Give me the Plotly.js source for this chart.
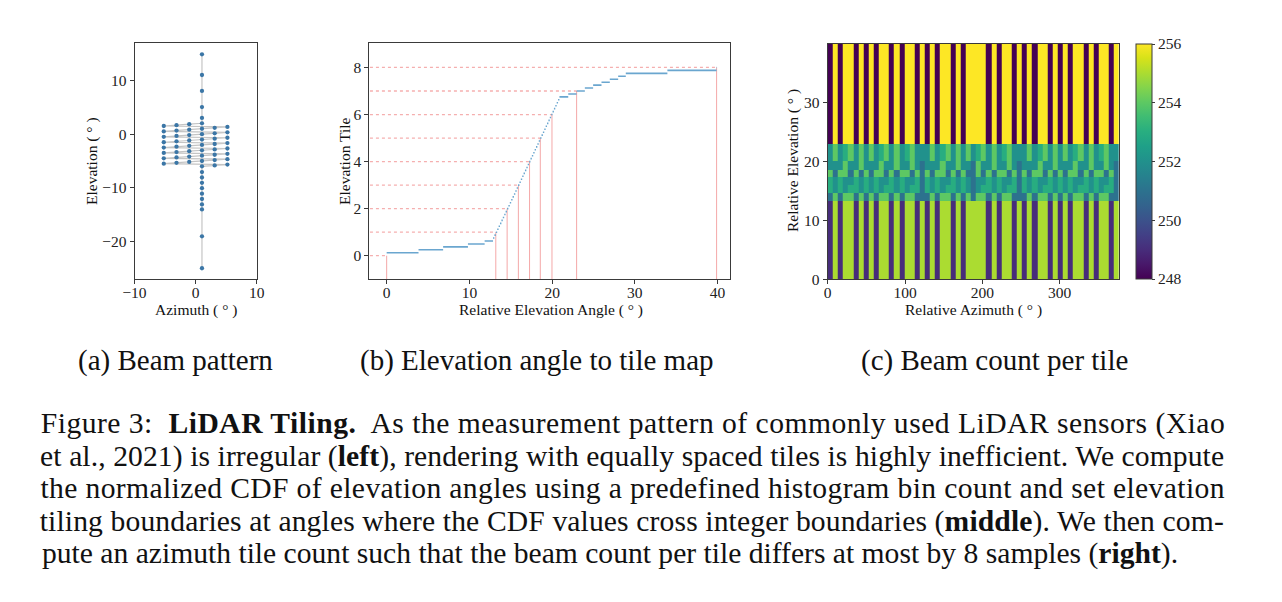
<!DOCTYPE html>
<html><head><meta charset="utf-8">
<script src="https://cdn.plot.ly/plotly-3.0.1.min.js"></script>
<style>html,body{margin:0;padding:0;background:#fff}#chart{width:1282px;height:602px}</style>
</head><body><div id="chart"></div>
<script>
// ---------- Panel (a): beam pattern ----------
const beamElevation = [14.882, 11.032, 8.059, 5.057, 3.040, 2.028,
  1.860, 1.688, 1.522, 1.351, 1.184, 1.013, 0.846, 0.675, 0.508, 0.337, 0.169, 0.000,
  -0.167, -0.334, -0.500, -0.667, -0.834, -1.001, -1.167, -1.334, -1.500, -1.667, -1.834, -2.001,
  -2.167, -2.334, -2.500, -2.667, -2.834, -3.001, -3.167, -3.334, -3.500, -3.667, -3.834, -4.001,
  -4.167, -4.334, -4.500, -4.667, -4.834, -5.001, -5.167, -5.334, -5.500, -5.667, -5.834, -6.001,
  -7.065, -8.075, -9.073, -10.073, -11.084, -12.089, -13.100, -14.023, -19.050, -25.000];
const beamAzimuth = [1.042, 1.042, 1.042, 1.042, 1.042, 1.042,
  -1.042, -3.125, -5.208, 5.208, 3.125, 1.042, -1.042, -3.125, -5.208, 5.208, 3.125, 1.042,
  -1.042, -3.125, -5.208, 5.208, 3.125, 1.042, -1.042, -3.125, -5.208, 5.208, 3.125, 1.042,
  -1.042, -3.125, -5.208, 5.208, 3.125, 1.042, -1.042, -3.125, -5.208, 5.208, 3.125, 1.042,
  -1.042, -3.125, -5.208, 5.208, 3.125, 1.042, -1.042, -3.125, -5.208, 5.208, 3.125, 1.042,
  1.042, 1.042, 1.042, 1.042, 1.042, 1.042, 1.042, 1.042, 1.042, 1.042];

// ---------- Panel (b): elevation angle -> tile ----------
const tileLevels = [0, 1, 2, 3, 4, 5, 6, 7, 8];
const tileBoundaryAngles = [0, 13.19, 14.56, 15.92, 17.27, 18.57, 19.98, 22.96, 39.88];
const beamsPerTileUnit = 8; // 64 beams / 8 tiles

// ---------- Panel (c): beam count per tile (rows bottom -> top, 57 azimuth tiles) ----------
const azimuthTileCount = 57;
const azimuthTileWidth = 6.61;
const countRow0 = [249,255,249,255,255,249,255,249,255,249,255,255,249,255,249,255,255,249,255,
                   249,255,249,255,255,249,255,249,255,255,255,255,249,255,249,255,255,249,255,
                   249,255,249,255,255,249,255,249,255,249,255,255,249,255,249,255,255,249,255];
const countRow1 = [251,254,251,254,254,251,254,251,254,251,254,254,251,254,251,254,254,251,251,
                   251,254,251,254,254,251,254,251,254,251,254,254,251,254,251,254,254,251,251,
                   251,254,251,254,254,251,254,251,254,251,254,254,251,254,251,254,254,251,251];
const countRow2 = [253,252,253,252,253,253,252,253,252,253,252,253,253,252,253,252,253,253,251,
                   253,252,253,252,253,253,252,253,252,251,252,253,253,252,253,252,253,253,251,
                   253,252,253,252,253,253,252,253,252,253,252,253,253,252,253,252,253,253,251];
const countRow3 = [253,252,253,252,252,253,252,253,252,253,252,252,253,252,253,252,252,253,251,
                   253,252,253,252,252,253,252,253,252,251,252,252,253,252,253,252,252,253,251,
                   253,252,253,252,252,253,252,253,252,253,252,252,253,252,253,252,252,253,251];
const countRow4 = [254,251,254,254,251,254,251,254,251,254,254,251,254,251,254,254,251,254,251,
                   254,251,254,254,251,254,251,254,251,251,254,251,254,251,254,254,251,254,251,
                   254,251,254,254,251,254,251,254,251,254,254,251,254,251,254,254,251,254,251];
const countRow5 = [252,252,252,254,252,252,254,252,252,252,254,252,252,254,252,252,254,252,251,
                   252,252,252,254,252,252,254,252,252,251,254,252,252,254,252,252,254,252,251,
                   252,252,252,254,252,252,254,252,252,252,254,252,252,254,252,252,254,252,251];
const countRow6 = [252,254,252,253,254,252,254,252,254,252,253,254,252,254,252,253,254,252,252,
                   252,254,252,253,254,252,254,252,254,252,253,254,252,254,252,253,254,252,252,
                   252,254,252,253,254,252,254,252,254,252,253,254,252,254,252,253,254,252,252];
const countRow7 = [248,256,248,256,256,248,256,248,256,248,256,256,248,256,248,256,256,248,256,
                   248,256,248,256,256,248,256,248,256,256,256,256,248,256,248,256,256,248,256,
                   248,256,248,256,256,248,256,248,256,248,256,256,248,256,248,256,256,248,256];
const countMin = 248, countMax = 256;

// ---------- Text ----------
const subCaptions = ["(a) Beam pattern", "(b) Elevation angle to tile map", "(c) Beam count per tile"];
const captionLines = [
  "Figure 3:  <b>LiDAR Tiling.</b>  As the measurement pattern of commonly used LiDAR sensors (Xiao",
  "et al., 2021) is irregular (<b>left</b>), rendering with equally spaced tiles is highly inefficient. We compute",
  "the normalized CDF of elevation angles using a predefined histogram bin count and set elevation",
  "tiling boundaries at angles where the CDF values cross integer boundaries (<b>middle</b>). We then com-",
  "pute an azimuth tile count such that the beam count per tile differs at most by 8 samples (<b>right</b>)."
];

// ================= build =================
const W = 1282, H = 602;
const px = v => v / W, py = v => 1 - v / H;
const SERIF = "'Liberation Serif', 'Times New Roman', Times, serif";
const tickFont = {family: SERIF, size: 15.5, color: "#222"};
const axisBase = {showline: true, mirror: true, linecolor: "#3a3a3a", linewidth: 1,
  ticks: "outside", ticklen: 4, tickwidth: 1, tickcolor: "#3a3a3a",
  showgrid: false, zeroline: false, tickfont: tickFont};
const xBase = Object.assign({}, axisBase, {ticklabelstandoff: -5});

// CDF step curve from sorted relative elevation angles
const relAngles = beamElevation.map(e => beamElevation[0] - e).sort((a, b) => a - b);
const cdfX = [], cdfY = [];
for (let i = 0; i < relAngles.length; i++) {
  const x0 = relAngles[i];
  const x1 = i + 1 < relAngles.length ? relAngles[i + 1] : relAngles[i] + 0.05;
  const level = (i + 1) / beamsPerTileUnit;
  cdfX.push(x0, x1, null); cdfY.push(level, level, null);
}
// red guide lines
const hX = [], hY = [], vX = [], vY = [];
tileLevels.forEach((lv, i) => {
  hX.push(-10, tileBoundaryAngles[i], null); hY.push(lv, lv, null);
  vX.push(tileBoundaryAngles[i], tileBoundaryAngles[i], null); vY.push(-5, lv, null);
});

const traces = [
  {type: "scatter", mode: "lines+markers", x: beamAzimuth, y: beamElevation,
   xaxis: "x", yaxis: "y", line: {color: "#c4c4c4", width: 1.2},
   marker: {color: "#3b76a6", size: 4.3}},
  {type: "scatter", mode: "lines", x: hX, y: hY, xaxis: "x2", yaxis: "y2",
   line: {color: "rgba(236,110,110,0.55)", width: 1.3, dash: "dot"}},
  {type: "scatter", mode: "lines", x: vX, y: vY, xaxis: "x2", yaxis: "y2",
   line: {color: "rgba(236,110,110,0.6)", width: 1}},
  {type: "scatter", mode: "lines", x: cdfX, y: cdfY, xaxis: "x2", yaxis: "y2",
   line: {color: "#6aa6cf", width: 1.6}},
  {type: "heatmap", xaxis: "x3", yaxis: "y3",
   z: [countRow0, countRow1, countRow2, countRow3, countRow4, countRow5, countRow6, countRow7],
   x0: azimuthTileWidth / 2, dx: azimuthTileWidth, y: tileBoundaryAngles,
   zmin: countMin, zmax: countMax, colorscale: "Viridis",
   colorbar: {x: px(1136), xanchor: "left", xref: "paper", y: py(44), yanchor: "top",
     len: 235 / H, lenmode: "fraction", thickness: 16, thicknessmode: "pixels",
     outlinewidth: 1, outlinecolor: "#3a3a3a", ticks: "outside", ticklen: 3,
     tickcolor: "#3a3a3a", tickvals: [248, 250, 252, 254, 256], tickfont: tickFont,
     xpad: 0, ypad: 0}}
];

const ann = [];
const addT = (text, x, y, size, rot, opts) => ann.push(Object.assign({text, x: px(x), y: py(y),
  xref: "paper", yref: "paper", showarrow: false, textangle: rot || 0,
  font: {family: SERIF, size: size, color: "#111"}, xanchor: "center", yanchor: "middle"}, opts || {}));
addT("Azimuth ( ° )", 196, 310, 15.5);
addT("Elevation ( ° )", 92, 161, 15.5, -90);
addT("Relative Elevation Angle ( ° )", 551, 310, 15.5);
addT("Elevation Tile", 344, 161, 15.5, -90);
addT("Relative Azimuth ( ° )", 973, 310, 15.5);
addT("Relative Elevation ( ° )", 793, 161, 15.5, -90);
addT(subCaptions[0], 175, 360, 29);
addT(subCaptions[1], 536.5, 360, 29);
addT(subCaptions[2], 994, 360, 29);
const capY = [423, 456, 488, 521, 553];
captionLines.forEach((t, i) => {
  if (i < 4) addT(t, 632, capY[i], 29.6);
  else addT(t, 40, capY[i], 29.6, 0, {xanchor: "left"});
});

const layout = {
  width: W, height: H, margin: {l: 0, r: 0, t: 0, b: 0}, showlegend: false,
  paper_bgcolor: "#fff", plot_bgcolor: "#fff",
  xaxis: Object.assign({}, xBase, {anchor: "y", domain: [px(134.5), px(256.7)], range: [-10, 10], tickvals: [-10, 0, 10]}),
  yaxis: Object.assign({}, axisBase, {anchor: "x", domain: [py(279), py(43)], range: [-27, 17], tickvals: [-20, -10, 0, 10]}),
  xaxis2: Object.assign({}, xBase, {anchor: "y2", domain: [px(369.3), px(730)], range: [-2.1, 41.5], tickvals: [0, 10, 20, 30, 40]}),
  yaxis2: Object.assign({}, axisBase, {anchor: "x2", domain: [py(279), py(43)], range: [-0.99, 9.04], tickvals: [0, 2, 4, 6, 8]}),
  xaxis3: Object.assign({}, xBase, {anchor: "y3", domain: [px(827.7), px(1119)], range: [0, azimuthTileCount * azimuthTileWidth], tickvals: [0, 100, 200, 300]}),
  yaxis3: Object.assign({}, axisBase, {anchor: "x3", domain: [py(279.3), py(44)], range: [0, 39.88], tickvals: [0, 10, 20, 30]}),
  annotations: ann
};

Plotly.newPlot("chart", traces, layout, {staticPlot: true}).then(() => {
  const texts = document.querySelectorAll(".annotation-text");
  texts.forEach(t => {
    const s = t.textContent.replace(/\s+/g, " ");
    for (let i = 0; i < 4; i++) {
      const plain = captionLines[i].replace(/<[^>]+>/g, "").replace(/\s+/g, " ");
      if (s === plain) {
        t.setAttribute("textLength", "1184");
        t.setAttribute("lengthAdjust", "spacing");
      }
    }
  });
});
</script></body></html>
